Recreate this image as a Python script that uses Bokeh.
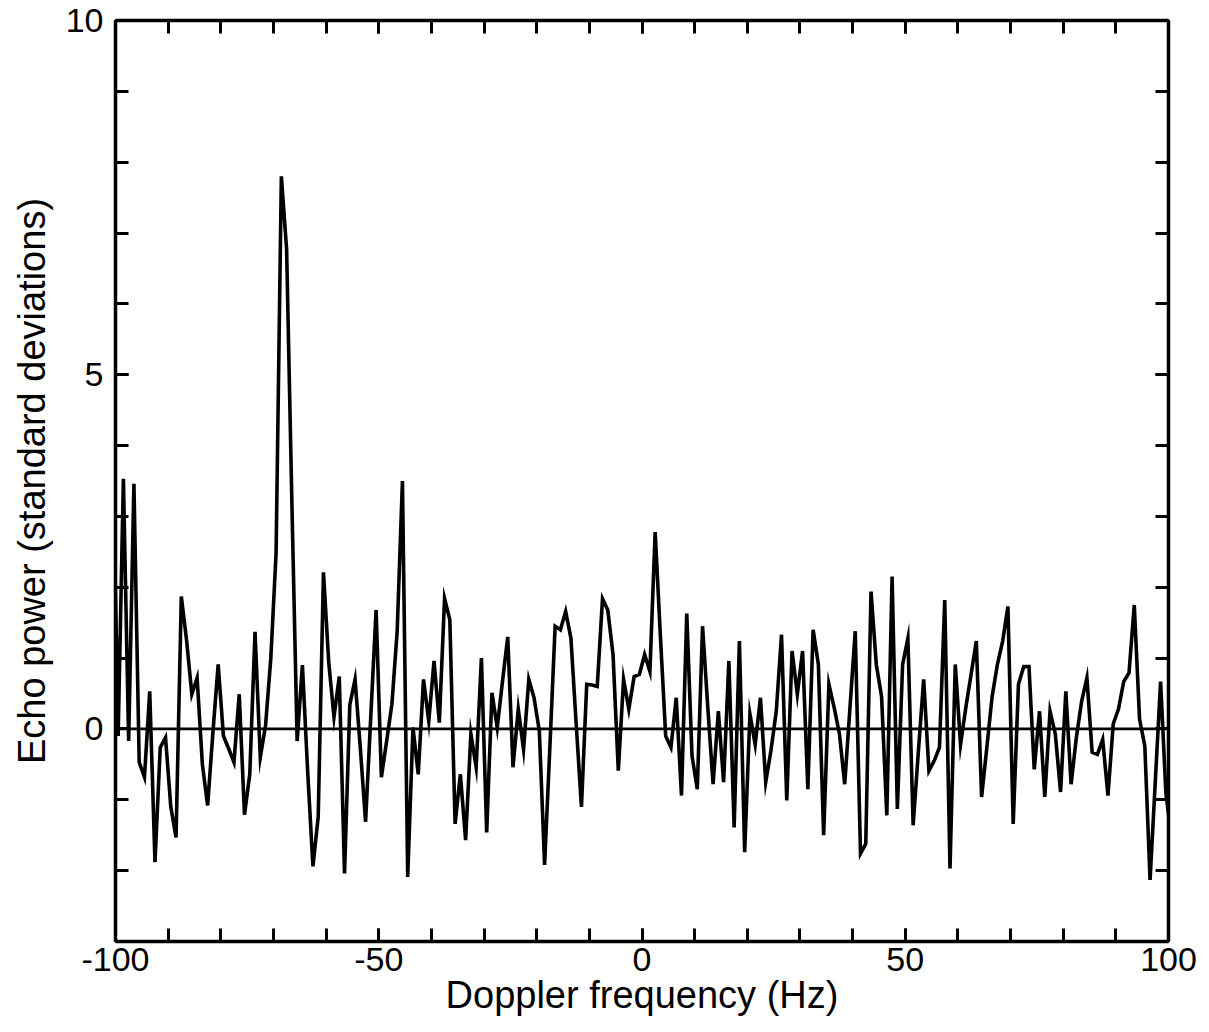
from bokeh.plotting import figure
from bokeh.models import LinearAxis, FixedTicker, Span, Range1d
from bokeh.embed import file_html
from bokeh.resources import INLINE

# ---- data ----
freq_hz = [
    -100.5, -99.5, -98.5, -97.5, -96.5, -95.5, -94.5, -93.5, -92.5, -91.5,
    -90.5, -89.5, -88.5, -87.5, -86.5, -85.5, -84.5, -83.5, -82.5, -81.5,
    -80.5, -79.5, -78.5, -77.5, -76.5, -75.5, -74.5, -73.5, -72.5, -71.5,
    -70.5, -69.5, -68.5, -67.5, -66.5, -65.5, -64.5, -63.5, -62.5, -61.5,
    -60.5, -59.5, -58.5, -57.5, -56.5, -55.5, -54.5, -53.5, -52.5, -51.5,
    -50.5, -49.5, -48.5, -47.5, -46.5, -45.5, -44.5, -43.5, -42.5, -41.5,
    -40.5, -39.5, -38.5, -37.5, -36.5, -35.5, -34.5, -33.5, -32.5, -31.5,
    -30.5, -29.5, -28.5, -27.5, -26.5, -25.5, -24.5, -23.5, -22.5, -21.5,
    -20.5, -19.5, -18.5, -17.5, -16.5, -15.5, -14.5, -13.5, -12.5, -11.5,
    -10.5, -9.5, -8.5, -7.5, -6.5, -5.5, -4.5, -3.5, -2.5, -1.5,
    -0.5, 0.5, 1.5, 2.5, 3.5, 4.5, 5.5, 6.5, 7.5, 8.5,
    9.5, 10.5, 11.5, 12.5, 13.5, 14.5, 15.5, 16.5, 17.5, 18.5,
    19.5, 20.5, 21.5, 22.5, 23.5, 24.5, 25.5, 26.5, 27.5, 28.5,
    29.5, 30.5, 31.5, 32.5, 33.5, 34.5, 35.5, 36.5, 37.5, 38.5,
    39.5, 40.5, 41.5, 42.5, 43.5, 44.5, 45.5, 46.5, 47.5, 48.5,
    49.5, 50.5, 51.5, 52.5, 53.5, 54.5, 55.5, 56.5, 57.5, 58.5,
    59.5, 60.5, 61.5, 62.5, 63.5, 64.5, 65.5, 66.5, 67.5, 68.5,
    69.5, 70.5, 71.5, 72.5, 73.5, 74.5, 75.5, 76.5, 77.5, 78.5,
    79.5, 80.5, 81.5, 82.5, 83.5, 84.5, 85.5, 86.5, 87.5, 88.5,
    89.5, 90.5, 91.5, 92.5, 93.5, 94.5, 95.5, 96.5, 97.5, 98.5,
    99.5, 100.5,
]

echo_power = [
    3.9, -0.1, 3.53, -0.17, 3.46, -0.47, -0.68, 0.53, -1.88, -0.26,
    -0.12, -1.1, -1.53, 1.87, 1.25, 0.49, 0.72, -0.5, -1.08, -0.05,
    0.91, -0.1, -0.28, -0.47, 0.49, -1.21, -0.64, 1.37, -0.4, 0.05,
    1.0, 2.48, 7.8, 6.77, 3.2, -0.17, 0.9, -0.6, -1.94, -1.24,
    2.21, 0.94, 0.17, 0.74, -2.04, 0.34, 0.7, -0.27, -1.31, 0.2,
    1.68, -0.68, -0.17, 0.35, 1.38, 3.5, -2.09, 0.02, -0.64, 0.7,
    0.11, 0.96, 0.09, 1.84, 1.54, -1.34, -0.64, -1.57, -0.07, -0.54,
    1.0, -1.46, 0.51, 0.02, 0.67, 1.3, -0.54, 0.28, -0.29, 0.7,
    0.44, -0.03, -1.92, -0.26, 1.45, 1.4, 1.66, 1.28, 0.07, -1.1,
    0.63, 0.62, 0.6, 1.84, 1.68, 1.05, -0.59, 0.7, 0.28, 0.74,
    0.77, 1.05, 0.81, 2.78, 1.3, -0.1, -0.26, 0.44, -0.94, 1.63,
    -0.38, -0.85, 1.45, 0.3, -0.78, 0.25, -0.75, 0.96, -1.39, 1.24,
    -1.74, 0.21, -0.22, 0.44, -0.75, -0.3, 0.25, 1.33, -1.01, 1.1,
    0.49, 1.1, -0.85, 1.4, 0.91, -1.5, 0.63, 0.3, -0.07, -0.78,
    0.3, 1.38, -1.76, -1.62, 1.94, 0.91, 0.46, -1.22, 2.15, -1.13,
    0.91, 1.28, -1.36, -0.31, 0.7, -0.59, -0.45, -0.26, 1.82, -1.97,
    0.91, -0.22, 0.3, 0.77, 1.24, -0.96, -0.26, 0.46, 0.91, 1.24,
    1.73, -1.34, 0.63, 0.88, 0.88, -0.57, 0.25, -0.96, 0.25, -0.07,
    -0.89, 0.53, -0.78, -0.12, 0.39, 0.72, -0.33, -0.36, -0.15, -0.94,
    0.07, 0.28, 0.67, 0.79, 1.75, 0.14, -0.24, -2.13, -0.73, 0.67,
    -0.9, -1.5,
]

x_major_ticks = [-100, -50, 0, 50, 100]
x_tick_labels = ["-100", "-50", "0", "50", "100"]
x_minor_ticks = [-100, -90, -80, -70, -60, -50, -40, -30, -20, -10, 0,
                 10, 20, 30, 40, 50, 60, 70, 80, 90, 100]
y_major_ticks = [0, 5, 10]
y_tick_labels = ["0", "5", "10"]
y_minor_ticks = [-3, -2, -1, 0, 1, 2, 3, 4, 5, 6, 7, 8, 9, 10]

FONT = "Liberation Sans"

p = figure(
    width=1200, height=1032,
    x_range=Range1d(-100, 100), y_range=Range1d(-3, 10),
    output_backend="svg", toolbar_location=None,
    min_border_left=115, min_border_right=32,
    min_border_top=20, min_border_bottom=91,
    x_axis_label="Doppler frequency (Hz)",
    y_axis_label="Echo power (standard deviations)",
)
p.xgrid.visible = False
p.ygrid.visible = False
p.outline_line_color = None
p.background_fill_color = "white"
p.border_fill_color = "white"

bottom_axis = p.below[0]
left_axis = p.left[0]
bottom_axis.ticker = FixedTicker(ticks=x_major_ticks, minor_ticks=x_minor_ticks)
left_axis.ticker = FixedTicker(ticks=y_major_ticks, minor_ticks=y_minor_ticks)
bottom_axis.major_label_overrides = dict(zip(x_major_ticks, x_tick_labels))
left_axis.major_label_overrides = dict(zip(y_major_ticks, y_tick_labels))

top_axis = LinearAxis(ticker=FixedTicker(ticks=x_major_ticks, minor_ticks=x_minor_ticks))
right_axis = LinearAxis(ticker=FixedTicker(ticks=y_major_ticks, minor_ticks=y_minor_ticks))
top_axis.major_label_overrides = {t: "" for t in x_major_ticks}
right_axis.major_label_overrides = {t: "" for t in y_major_ticks}
for ax in (top_axis, right_axis):
    ax.major_label_standoff = 0
p.add_layout(top_axis, "above")
p.add_layout(right_axis, "right")

for ax in (bottom_axis, left_axis, top_axis, right_axis):
    ax.axis_line_width = 3.5
    ax.axis_line_color = "black"
    ax.major_tick_in = 13
    ax.major_tick_out = 0
    ax.minor_tick_in = 13
    ax.minor_tick_out = 0
    ax.major_tick_line_width = 3
    ax.minor_tick_line_width = 3
    ax.major_tick_line_color = "black"
    ax.minor_tick_line_color = "black"
    ax.major_label_text_font = FONT
    ax.major_label_text_color = "black"
    ax.major_label_text_font_size = "34px"
    ax.axis_label_text_font = FONT
    ax.axis_label_text_font_style = "normal"
    ax.axis_label_text_color = "black"
    ax.axis_label_text_font_size = "38px"

bottom_axis.major_label_standoff = 6
left_axis.major_label_standoff = 12
bottom_axis.axis_label_standoff = 0
left_axis.axis_label_standoff = 10

zero_line = Span(location=0, dimension="width", line_color="black", line_width=2.8)
p.add_layout(zero_line)

p.line(freq_hz, echo_power, line_color="black", line_width=3.6, line_join="miter")

open("out.html", "w").write(file_html(p, INLINE))
